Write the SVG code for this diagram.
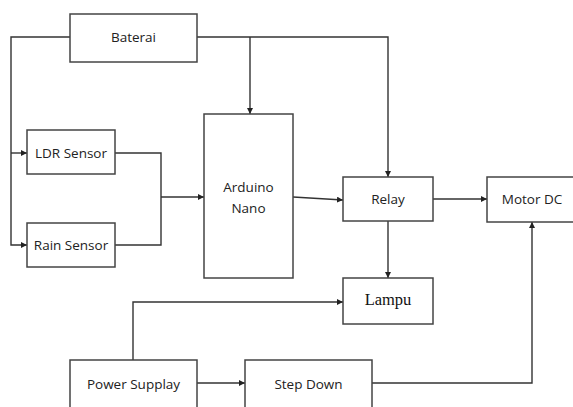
<svg xmlns="http://www.w3.org/2000/svg" width="573" height="407" viewBox="0 0 573 407">
<defs>
<marker id="arr" markerUnits="userSpaceOnUse" markerWidth="7" markerHeight="6" refX="6" refY="3" orient="auto">
<path d="M0,0 L6,3 L0,6 z" fill="#222"/>
</marker>
<style>
.box{fill:#fff;stroke:#444;stroke-width:1.5}
.lbl{font-family:"Open Sans","Noto Sans",sans-serif;font-size:13.5px;fill:#222;text-anchor:middle}
.ser{font-family:"Liberation Serif","Times New Roman",serif;font-size:16.5px;fill:#111;text-anchor:middle}
.ln{fill:none;stroke:#333;stroke-width:1.4}
</style>
</defs>
<rect width="573" height="407" fill="#fff"/>
<g id="connectors">
<path class="ln" d="M70,37 H11 V245 H27" marker-end="url(#arr)"/>
<path class="ln" d="M11,153 H27" marker-end="url(#arr)"/>
<path class="ln" d="M197,37 H388 V177" marker-end="url(#arr)"/>
<path class="ln" d="M250,37 V114" marker-end="url(#arr)"/>
<path class="ln" d="M115,153 H161 V245 H115"/>
<path class="ln" d="M161,197 H204" marker-end="url(#arr)"/>
<path class="ln" d="M293,197 L343,200" marker-end="url(#arr)"/>
<path class="ln" d="M433,199 H487" marker-end="url(#arr)"/>
<path class="ln" d="M388,221 V278" marker-end="url(#arr)"/>
<path class="ln" d="M133,360 V302 H343" marker-end="url(#arr)"/>
<path class="ln" d="M197,383 H245" marker-end="url(#arr)"/>
<path class="ln" d="M372,383 H532 V222" marker-end="url(#arr)"/>
</g>
<g id="baterai"><rect class="box" x="70" y="14" width="127" height="48"/><text class="lbl" x="133.5" y="42">Baterai</text></g>
<g id="ldr"><rect class="box" x="27" y="130" width="88" height="44"/><text class="lbl" x="71" y="158">LDR Sensor</text></g>
<g id="rain"><rect class="box" x="27" y="223" width="88" height="44"/><text class="lbl" x="71" y="250">Rain Sensor</text></g>
<g id="arduino"><rect class="box" x="204" y="114" width="89" height="164"/><text class="lbl" x="248.5" y="192">Arduino</text><text class="lbl" x="248.5" y="213">Nano</text></g>
<g id="relay"><rect class="box" x="343" y="177" width="90" height="44"/><text class="lbl" x="388" y="204">Relay</text></g>
<g id="motor"><rect class="box" x="487" y="177" width="100" height="45"/><text class="lbl" x="532" y="204">Motor DC</text></g>
<g id="lampu"><rect class="box" x="343" y="278" width="90" height="46"/><text class="ser" x="388" y="305">Lampu</text></g>
<g id="power"><rect class="box" x="70" y="360" width="127" height="60"/><text class="lbl" x="133.5" y="389">Power Supplay</text></g>
<g id="stepdown"><rect class="box" x="245" y="360" width="127" height="60"/><text class="lbl" x="308.5" y="389">Step Down</text></g>
</svg>
